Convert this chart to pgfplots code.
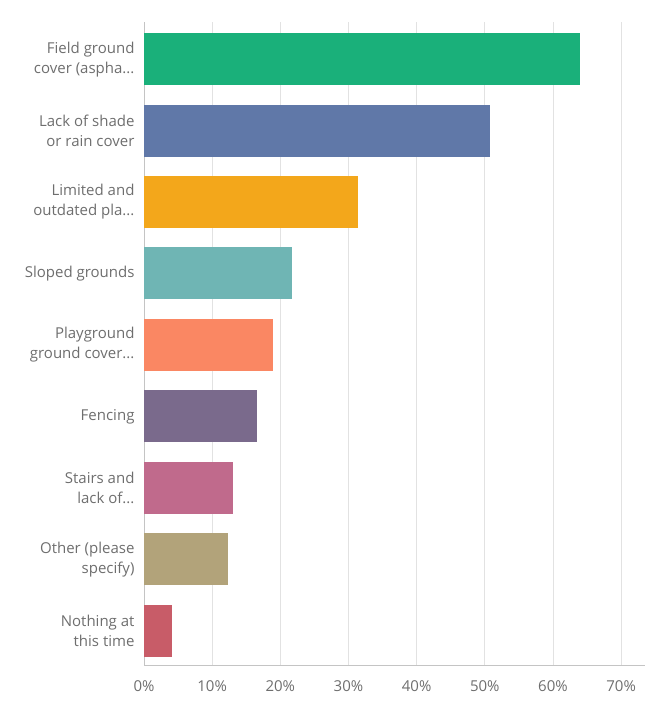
\documentclass[border=0pt]{standalone}
\usepackage{pgfplots}
\pgfplotsset{compat=1.18}
\usepackage{fontspec}
\setmainfont{Open Sans}
\definecolor{cA}{HTML}{1AB07A}
\definecolor{cB}{HTML}{6078A8}
\definecolor{cC}{HTML}{F3A71B}
\definecolor{cD}{HTML}{6FB5B4}
\definecolor{cE}{HTML}{FA8763}
\definecolor{cF}{HTML}{7A6A8C}
\definecolor{cG}{HTML}{C06A8C}
\definecolor{cH}{HTML}{B2A37A}
\definecolor{cI}{HTML}{C85C68}
\definecolor{txt}{HTML}{6E6E6E}
\definecolor{grd}{HTML}{E2E2E2}
\newcommand{\el}{.\kern0pt.\kern0pt.}
\begin{document}
\begin{tikzpicture}
\begin{axis}[
  at={(144pt,36pt)}, anchor=south west,
  scale only axis, width=501pt, height=643pt,
  xmin=0, xmax=73.5,
  ymin=-0.52, ymax=8.48, y dir=reverse,
  xbar, bar width=52pt, bar shift=0pt,
  axis x line*=bottom, axis y line*=left,
  axis line style={draw=grd!70!gray, -},
  xtick={0,10,20,30,40,50,60,70},
  xticklabel={\pgfmathprintnumber{\tick}\%},
  /pgf/number format/assume math mode=true,
  xmajorgrids, grid style={draw=grd, line width=0.8pt},
  major tick length=0pt,
  ytick={0,1,2,3,4,5,6,7,8},
  yticklabels={{Field ground\\cover (aspha\el},{Lack of shade\\or rain cover},{Limited and\\outdated pla\el},{Sloped grounds},{Playground\\ground cover\el},{Fencing},{Stairs and\\lack of\el},{Other (please\\specify)},{Nothing at\\this time}},
  yticklabel style={align=right, font=\fontsize{15}{20}\selectfont, text=txt, xshift=-6pt},
  xticklabel style={font=\fontsize{15}{18}\selectfont, text=txt, yshift=-12pt},
]
\addplot[fill=cA, draw=none] coordinates {(64.0,0)};
\addplot[fill=cB, draw=none] coordinates {(50.7,1)};
\addplot[fill=cC, draw=none] coordinates {(31.4,2)};
\addplot[fill=cD, draw=none] coordinates {(21.7,3)};
\addplot[fill=cE, draw=none] coordinates {(18.9,4)};
\addplot[fill=cF, draw=none] coordinates {(16.6,5)};
\addplot[fill=cG, draw=none] coordinates {(13.0,6)};
\addplot[fill=cH, draw=none] coordinates {(12.3,7)};
\addplot[fill=cI, draw=none] coordinates {(4.1,8)};
\end{axis}
\pgfresetboundingbox
\path[use as bounding box] (0,0) rectangle (649pt,701pt);
\end{tikzpicture}
\end{document}
